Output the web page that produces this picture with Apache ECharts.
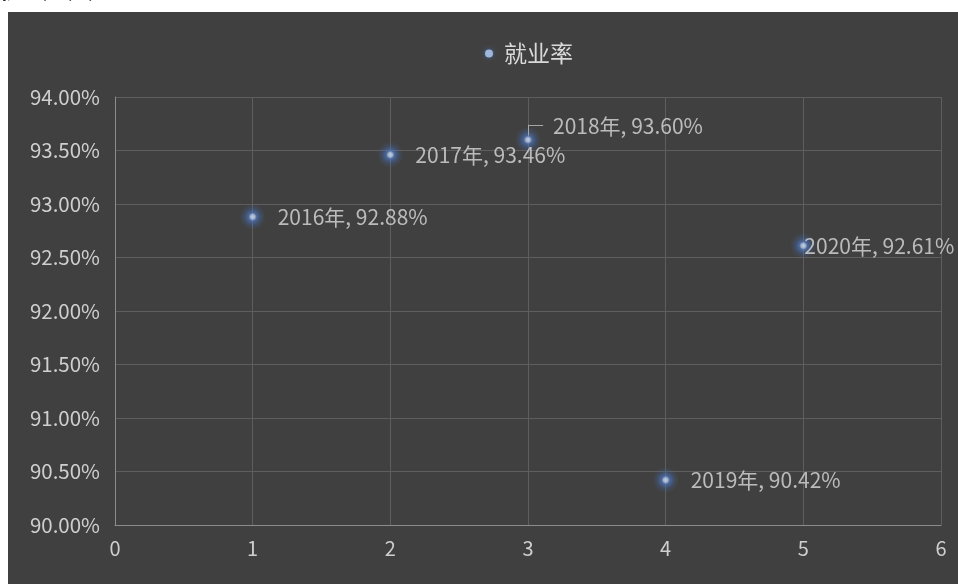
<!DOCTYPE html>
<html><head><meta charset="utf-8">
<style>html,body{margin:0;padding:0;background:#fff}#c{width:958px;height:584px}</style>
<script src="https://cdn.jsdelivr.net/npm/echarts@6/dist/echarts.min.js"></script>
</head><body><div id="c"></div>
<script>
const seriesName = '就业率';
const years = ['2016年', '2017年', '2018年', '2019年', '2020年'];
const xValues = [1, 2, 3, 4, 5];
const rates = [92.88, 93.46, 93.60, 90.42, 92.61];
const yTicks = [90, 94, 0.5];
const xTicks = [0, 6, 1];

const FONT = '"Noto Sans CJK SC", "Noto Sans", sans-serif';
const chart = echarts.init(document.getElementById('c'));

const data = xValues.map((x, i) => {
  const d = { value: [x, rates[i]], name: years[i] };
  if (i === 2) d.label = { offset: [0, -14] };
  if (i === 4) d.label = { offset: [-24, 0] };
  return d;
});

const glow = {
  type: 'radial', x: 0.5, y: 0.5, r: 0.5,
  colorStops: [
    { offset: 0, color: '#e6eefc' },
    { offset: 0.18, color: '#b4cbf0' },
    { offset: 0.32, color: 'rgba(80,125,205,0.8)' },
    { offset: 0.65, color: 'rgba(68,114,196,0.3)' },
    { offset: 1, color: 'rgba(68,114,196,0)' }
  ]
};

const leaderTop = rates[2] + 0.14;
chart.setOption({
  backgroundColor: '#404040',
  animation: false,
  textStyle: { fontFamily: FONT },
  graphic: [
    { type: 'rect', shape: { x: 0, y: 0, width: 958, height: 12 }, style: { fill: '#fff' }, z: 100 },
    { type: 'rect', shape: { x: 0, y: 0, width: 8, height: 584 }, style: { fill: '#fff' }, z: 100 },
    { type: 'text', left: 0, top: -17, style: { text: '就业率（%）', fill: '#222', font: '18px ' + FONT }, z: 101 }
  ],
  legend: {
    left: 480, top: 37,
    icon: 'circle', itemWidth: 8, itemHeight: 8,
    textStyle: { color: '#d9d9d9', fontSize: 23, padding: [0, 0, 0, 6] },
    data: [{ name: seriesName, itemStyle: { color: '#b8cef0', shadowBlur: 4, shadowColor: '#4472c4' } }]
  },
  grid: { left: 115, right: 17, top: 97, bottom: 59 },
  xAxis: {
    type: 'value', min: xTicks[0], max: xTicks[1], interval: xTicks[2],
    axisLine: { show: true, lineStyle: { color: '#8c8c8c', width: 1 } },
    axisTick: { show: false },
    axisLabel: { color: '#cfcfcf', fontSize: 20, margin: 13 },
    splitLine: { show: true, lineStyle: { color: '#5e5e5e', width: 1 } }
  },
  yAxis: {
    type: 'value', min: yTicks[0], max: yTicks[1], interval: yTicks[2],
    axisLine: { show: true, lineStyle: { color: '#8c8c8c', width: 1 } },
    axisTick: { show: false },
    axisLabel: { color: '#cfcfcf', fontSize: 20.5, margin: 15, formatter: v => v.toFixed(2) + '%' },
    splitLine: { show: true, lineStyle: { color: '#5e5e5e', width: 1 } }
  },
  series: [{
    name: seriesName, type: 'scatter', symbol: 'circle', symbolSize: 26,
    itemStyle: { color: glow },
    label: {
      show: true, position: 'right', distance: 12, color: '#d9d9d9', fontSize: 21,
      formatter: p => p.name + ', ' + p.value[1].toFixed(2) + '%'
    },
    data: data,
    markLine: {
      silent: true, symbol: 'none', label: { show: false },
      lineStyle: { color: '#a6a6a6', width: 1, type: 'solid' },
      data: [
        [{ coord: [xValues[2], rates[2] + 0.04] }, { coord: [xValues[2], leaderTop] }],
        [{ coord: [xValues[2], leaderTop] }, { coord: [xValues[2] + 0.11, leaderTop] }]
      ]
    }
  }]
});
</script></body></html>
